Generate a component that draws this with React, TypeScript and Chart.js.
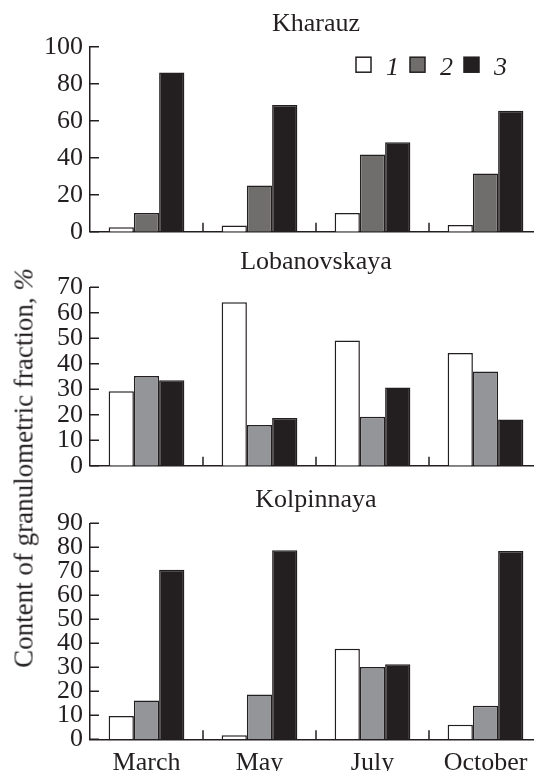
import React, { useEffect, useRef } from "react";
import { Chart, registerables } from "chart.js";

Chart.register(...registerables);

// ---- data ----
const months = ["March", "May", "July", "October"];
const seriesLabels = ["1", "2", "3"];

const kharauz1 = [2.4, 3.3, 10.1, 3.6];
const kharauz2 = [10.1, 25, 41.7, 31.5];
const kharauz3 = [86, 68.5, 48.4, 65.4];

const lobanovskaya1 = [29.2, 64.1, 49.1, 44.2];
const lobanovskaya2 = [35.2, 16, 19.2, 37];
const lobanovskaya3 = [33.5, 18.7, 30.7, 18.1];

const kolpinnaya1 = [9.7, 1.7, 37.7, 6.1];
const kolpinnaya2 = [16.2, 18.7, 30.1, 14];
const kolpinnaya3 = [70.6, 78.8, 31.3, 78.5];

const kharauzAxis = { max: 100, step: 20 };
const lobanovskayaAxis = { max: 70, step: 10 };
const kolpinnayaAxis = { max: 90, step: 10 };

const yTitle = "Content of granulometric fraction, ";
const yTitleUnit = "%";

// ---- styles ----
const INK = "#231f20";
const FONT = "'Liberation Serif', 'Times New Roman', serif";
const WHITE = "#ffffff";
const GRAY_DARK = "#6f6e6c";
const GRAY_LIGHT = "#939598";

type PanelDef = {
  title: string;
  series: number[][];
  axis: { max: number; step: number };
  color2: string;
  top: number;
  height: number;
  titlePad: { top: number; bottom: number };
  xHeight: number;
  showX: boolean;
  legend: boolean;
};

const panels: PanelDef[] = [
  {
    title: "Kharauz",
    series: [kharauz1, kharauz2, kharauz3],
    axis: kharauzAxis,
    color2: GRAY_DARK,
    top: 0,
    height: 245,
    titlePad: { top: 8.5, bottom: 7 },
    xHeight: 13.3,
    showX: false,
    legend: true,
  },
  {
    title: "Lobanovskaya",
    series: [lobanovskaya1, lobanovskaya2, lobanovskaya3],
    axis: lobanovskayaAxis,
    color2: GRAY_LIGHT,
    top: 245,
    height: 235,
    titlePad: { top: 1.5, bottom: 9.6 },
    xHeight: 14.3,
    showX: false,
    legend: false,
  },
  {
    title: "Kolpinnaya",
    series: [kolpinnaya1, kolpinnaya2, kolpinnaya3],
    axis: kolpinnayaAxis,
    color2: GRAY_LIGHT,
    top: 480,
    height: 291,
    titlePad: { top: 5, bottom: 7.1 },
    xHeight: 31.7,
    showX: true,
    legend: false,
  },
];

const CANVAS_W = 546;

const innerTicks = {
  id: "innerTicks",
  afterDraw(chart: any) {
    const ctx = chart.ctx;
    const { left, bottom } = chart.chartArea;
    const ys = chart.scales.y;
    const xs = chart.scales.x;
    ctx.save();
    ctx.strokeStyle = INK;
    ctx.lineWidth = 1.5;
    ctx.beginPath();
    ys.ticks.forEach((_t: any, i: number) => {
      const py = ys.getPixelForTick(i);
      ctx.moveTo(left, py);
      ctx.lineTo(left + 9, py);
    });
    for (let i = 1; i < xs.ticks.length; i++) {
      const px = (xs.getPixelForTick(i - 1) + xs.getPixelForTick(i)) / 2;
      ctx.moveTo(px, bottom);
      ctx.lineTo(px, bottom - 9);
    }
    ctx.stroke();
    ctx.restore();
  },
};

function makeLegendPlugin(show: boolean) {
  return {
    id: "insideLegend",
    afterDraw(chart: any) {
      if (!show) return;
      const ctx = chart.ctx;
      const { left, top } = chart.chartArea;
      const boxX = [266, 320, 374];
      ctx.save();
      chart.data.datasets.forEach((ds: any, i: number) => {
        const x = left + boxX[i];
        const y = top + 10.5;
        ctx.fillStyle = ds.backgroundColor;
        ctx.fillRect(x, y, 15, 15);
        ctx.strokeStyle = INK;
        ctx.lineWidth = 1.5;
        ctx.strokeRect(x, y, 15, 15);
        ctx.fillStyle = INK;
        ctx.font = `italic 26px ${FONT}`;
        ctx.textBaseline = "alphabetic";
        ctx.textAlign = "left";
        ctx.fillText(ds.label, x + 15 + 15, top + 28.3);
      });
      ctx.restore();
    },
  };
}

function Panel({ def }: { def: PanelDef }) {
  const ref = useRef<HTMLCanvasElement | null>(null);
  useEffect(() => {
    if (!ref.current) return;
    const colors = [WHITE, def.color2, INK];
    const chart = new Chart(ref.current, {
      type: "bar",
      data: {
        labels: months,
        datasets: def.series.map((vals, i) => ({
          label: seriesLabels[i],
          data: vals,
          backgroundColor: colors[i],
          borderColor: INK,
          borderWidth: 1.5,
          categoryPercentage: 0.67,
          barPercentage: 1.0,
        })),
      },
      options: {
        responsive: false,
        animation: false,
        devicePixelRatio: 1,
        layout: { autoPadding: false, padding: { left: 0, right: 4, top: 0, bottom: 0 } },
        plugins: {
          legend: { display: false },
          tooltip: { enabled: false },
          title: {
            display: true,
            text: def.title,
            fullSize: false,
            color: INK,
            font: { family: FONT, size: 26, weight: "normal", lineHeight: 1.2 },
            padding: def.titlePad,
          },
        },
        scales: {
          x: {
            grid: { display: false },
            border: { display: true, color: INK, width: 1.5 },
            ticks: {
              display: def.showX,
              color: INK,
              font: { family: FONT, size: 26 },
              padding: 0,
              maxRotation: 0,
              autoSkip: false,
            },
            afterFit(scale: any) {
              scale.height = def.xHeight;
              scale.paddingLeft = 0;
              scale.paddingRight = 0;
              scale.paddingTop = 0;
              scale.paddingBottom = 0;
            },
          },
          y: {
            min: 0,
            max: def.axis.max,
            grid: { display: false, drawTicks: false },
            border: { display: true, color: INK, width: 1.5 },
            ticks: {
              stepSize: def.axis.step,
              color: INK,
              font: { family: FONT, size: 26, lineHeight: 0.8 },
              padding: 7,
              autoSkip: false,
            },
            afterFit(scale: any) {
              scale.width = 90;
              scale.paddingLeft = 0;
              scale.paddingRight = 0;
              scale.paddingTop = 0;
              scale.paddingBottom = 0;
            },
          },
        },
      },
      plugins: [innerTicks, makeLegendPlugin(def.legend)],
    } as any);
    return () => chart.destroy();
  }, [def]);
  return (
    <div style={{ position: "absolute", left: 0, top: def.top, width: CANVAS_W, height: def.height }}>
      <canvas ref={ref} width={CANVAS_W} height={def.height} style={{ display: "block" }} />
    </div>
  );
}

export default function App() {
  return (
    <div
      style={{
        position: "fixed",
        left: 0,
        top: 0,
        width: 534,
        height: 771,
        overflow: "hidden",
        background: "#ffffff",
      }}
    >
      {panels.map((p) => (
        <Panel key={p.title} def={p} />
      ))}
      <div
        style={{
          position: "absolute",
          left: 24,
          top: 468,
          transform: "translate(-50%, -50%) rotate(-90deg)",
          whiteSpace: "nowrap",
          fontFamily: FONT,
          fontSize: 27,
          lineHeight: 1,
          color: INK,
        }}
      >
        {yTitle}
        <i>{yTitleUnit}</i>
      </div>
    </div>
  );
}
